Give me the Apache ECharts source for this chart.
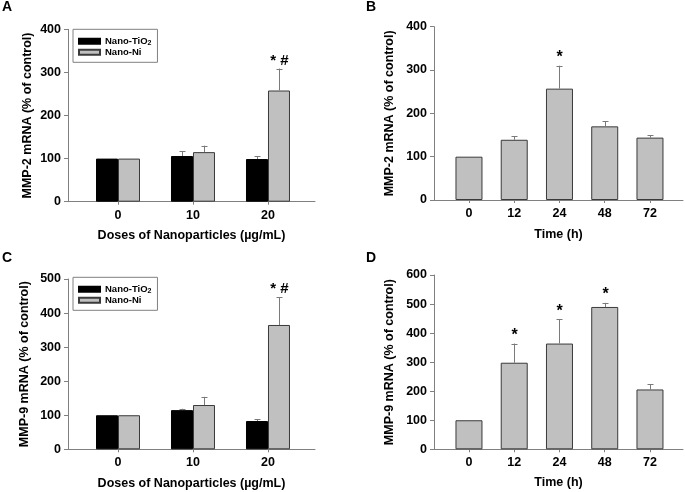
<!DOCTYPE html>
<html>
<head>
<meta charset="utf-8">
<script src="https://cdn.jsdelivr.net/npm/echarts@6/dist/echarts.min.js"></script>
<style>html,body{margin:0;padding:0;background:#fff}#c{width:685px;height:492px}</style>
</head>
<body>
<div id="c"></div>
<script>
// ---- data ----
const doses = ['0', '10', '20'];
const times = ['0', '12', '24', '48', '72'];
const seriesNames = ['Nano-TiO2', 'Nano-Ni'];

const mmp2TiO2 = [100, 106, 99];
const mmp2TiO2Err = [0, 11, 6];
const mmp2Ni = [100, 115, 258];
const mmp2NiErr = [0, 15, 51];
const mmp2NiSig = ['', '', '* #'];

const mmp2Time = [100, 139, 257, 170, 144];
const mmp2TimeErr = [0, 8, 53, 12, 6];
const mmp2TimeSig = ['', '', '*', '', ''];

const mmp9TiO2 = [100, 115, 83];
const mmp9TiO2Err = [0, 4, 5];
const mmp9Ni = [100, 130, 365];
const mmp9NiErr = [0, 24, 82];
const mmp9NiSig = ['', '', '* #'];

const mmp9Time = [100, 298, 364, 490, 206];
const mmp9TimeErr = [0, 66, 83, 14, 18];
const mmp9TimeSig = ['', '*', '*', '*', ''];

const yMaxA = 400, yMaxB = 400, yMaxC = 500, yMaxD = 600, yStep = 100;
const panelLetters = ['A', 'B', 'C', 'D'];
const yNameA = 'MMP-2 mRNA (% of control)';
const yNameC = 'MMP-9 mRNA (% of control)';
const xNameDose = 'Doses of Nanoparticles (\u00b5g/mL)';
const xNameTime = 'Time (h)';

// ---- styles ----
const FONT = 'Liberation Sans, Arial, sans-serif';
const AXIS_COLOR = '#808080';
const GREY = '#c0c0c0';
const EDGE = '#3a3a3a';

const chart = echarts.init(document.getElementById('c'));

function idx(arr) { return arr.map((v, i) => i); }
function pairs(arr) { return arr.map((v, i) => [i, v]); }

function xAxisDef(gridIndex, cats, min, max, name, nameGap) {
  const ticks = idx(cats);
  return {
    type: 'value', gridIndex, min, max,
    splitLine: { show: false },
    axisLine: { show: true, onZero: false, lineStyle: { color: AXIS_COLOR, width: 1 } },
    axisTick: { show: true, customValues: ticks, length: 3, lineStyle: { color: AXIS_COLOR } },
    axisLabel: {
      customValues: ticks, margin: 7, color: '#000', fontFamily: FONT, fontWeight: 'bold', fontSize: 12.5,
      formatter: v => cats[Math.round(v)]
    },
    name, nameLocation: 'middle', nameGap,
    nameTextStyle: { color: '#000', fontFamily: FONT, fontWeight: 'bold', fontSize: 12.5 }
  };
}
function yAxisDef(gridIndex, max, name, nameGap) {
  return {
    type: 'value', gridIndex, min: 0, max, interval: yStep,
    splitLine: { show: false },
    axisLine: { show: true, onZero: false, lineStyle: { color: AXIS_COLOR, width: 1 } },
    axisTick: { show: true, length: 4, lineStyle: { color: AXIS_COLOR } },
    axisLabel: { margin: 7, color: '#000', fontFamily: FONT, fontWeight: 'bold', fontSize: 12.5 },
    name, nameLocation: 'middle', nameGap,
    nameTextStyle: { color: '#000', fontFamily: FONT, fontWeight: 'bold', fontSize: 12.5 }
  };
}

function barSeries(name, axisIndex, vals, color, edge, width) {
  return {
    type: 'bar', name, xAxisIndex: axisIndex, yAxisIndex: axisIndex,
    data: pairs(vals), barWidth: width, barGap: '0%',
    itemStyle: { color, borderColor: edge, borderWidth: 1 },
    emphasis: { disabled: true }, animation: false, z: 2
  };
}

function errSeries(axisIndex, vals, errs, sigs, offset, sigSize) {
  return {
    type: 'custom', name: 'err' + axisIndex + '_' + offset, xAxisIndex: axisIndex, yAxisIndex: axisIndex,
    data: vals.map((v, i) => [i, v, errs[i]]),
    encode: { x: 0, y: 1 }, z: 3, animation: false, silent: true,
    renderItem: function (params, api) {
      const i = api.value(0), m = api.value(1), e = api.value(2);
      const p0 = api.coord([i, m]);
      const p1 = api.coord([i, m + e]);
      const x = Math.round(p0[0] + offset) + 0.5;
      const children = [];
      if (e > 0) {
        children.push({ type: 'line', shape: { x1: x, y1: p0[1], x2: x, y2: p1[1] }, style: { stroke: '#7a7a7a', lineWidth: 1 } });
        children.push({ type: 'line', shape: { x1: x - 3, y1: Math.round(p1[1]) + 0.5, x2: x + 3, y2: Math.round(p1[1]) + 0.5 }, style: { stroke: '#7a7a7a', lineWidth: 1 } });
      }
      const s = sigs ? sigs[params.dataIndex] : '';
      if (s) {
        children.push({ type: 'text', style: { text: s, x: x, y: p1[1] - 8, align: 'center', verticalAlign: 'middle', fill: '#000', font: 'bold ' + sigSize + 'px ' + FONT } });
      }
      return { type: 'group', children };
    }
  };
}

function legendDef(top) {
  return {
    data: seriesNames, orient: 'vertical', left: 73, top,
    icon: 'rect', itemWidth: 21, itemHeight: 5, itemGap: 1,
    padding: [7, 6, 5, 5], borderColor: '#808080', borderWidth: 1,
    selectedMode: false,
    formatter: n => n === 'Nano-TiO2' ? 'Nano-TiO{sub|2}' : n,
    textStyle: {
      color: '#000', fontFamily: FONT, fontWeight: 'bold', fontSize: 9.5, lineHeight: 10,
      rich: { sub: { fontSize: 7, fontFamily: FONT, fontWeight: 'bold', color: '#000', verticalAlign: 'bottom', lineHeight: 10 } }
    }
  };
}

const letterPos = [[2, 0], [366, 0], [2, 251], [366, 251]];

const option = {
  backgroundColor: '#fff',
  animation: false,
  title: panelLetters.map((t, i) => ({
    text: t, left: letterPos[i][0], top: letterPos[i][1], padding: 0,
    textStyle: { fontFamily: FONT, fontWeight: 'bold', fontSize: 14, color: '#000' }
  })),
  legend: [legendDef(29.3), legendDef(277.3)],
  grid: [
    { left: 68, top: 29.3, width: 247, height: 172.4 },
    { left: 434, top: 26.7, width: 249, height: 173.3 },
    { left: 68, top: 279, width: 247, height: 170.3 },
    { left: 434, top: 275, width: 249, height: 174.3 }
  ],
  xAxis: [
    xAxisDef(0, doses, -0.667, 2.627, xNameDose, 27),
    xAxisDef(1, times, -0.773, 4.73, xNameTime, 28),
    xAxisDef(2, doses, -0.667, 2.627, xNameDose, 28),
    xAxisDef(3, times, -0.773, 4.73, xNameTime, 27)
  ],
  yAxis: [
    yAxisDef(0, yMaxA, yNameA, 34),
    yAxisDef(1, yMaxB, yNameA, 38),
    yAxisDef(2, yMaxC, yNameC, 37),
    yAxisDef(3, yMaxD, yNameC, 38)
  ],
  series: [
    barSeries(seriesNames[0], 0, mmp2TiO2, '#000', '#000', 22),
    barSeries(seriesNames[1], 0, mmp2Ni, GREY, EDGE, 22),
    errSeries(0, mmp2TiO2, mmp2TiO2Err, null, -11, 15),
    errSeries(0, mmp2Ni, mmp2NiErr, mmp2NiSig, 11, 15),

    barSeries('MMP-2 time', 1, mmp2Time, GREY, EDGE, 27),
    errSeries(1, mmp2Time, mmp2TimeErr, mmp2TimeSig, 0, 16),

    barSeries(seriesNames[0], 2, mmp9TiO2, '#000', '#000', 22),
    barSeries(seriesNames[1], 2, mmp9Ni, GREY, EDGE, 22),
    errSeries(2, mmp9TiO2, mmp9TiO2Err, null, -11, 15),
    errSeries(2, mmp9Ni, mmp9NiErr, mmp9NiSig, 11, 15),

    barSeries('MMP-9 time', 3, mmp9Time, GREY, EDGE, 27),
    errSeries(3, mmp9Time, mmp9TimeErr, mmp9TimeSig, 0, 16)
  ]
};
chart.setOption(option);
</script>
</body>
</html>
